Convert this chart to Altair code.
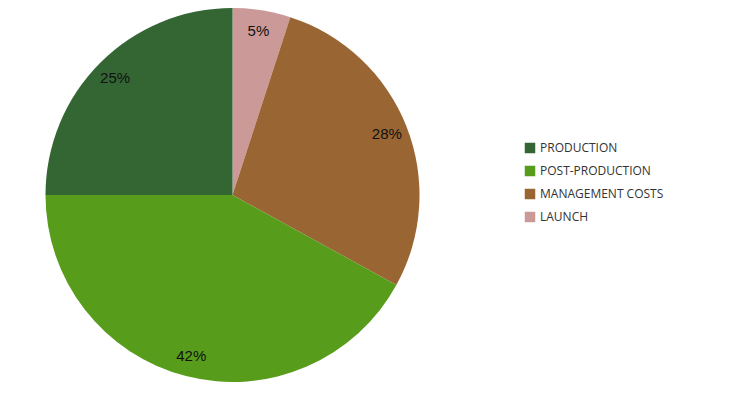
import altair as alt
import pandas as pd

categories = ["LAUNCH", "MANAGEMENT COSTS", "POST-PRODUCTION", "PRODUCTION"]
values = [5, 28, 42, 25]
order = [1, 2, 3, 4]
legend_order = ["PRODUCTION", "POST-PRODUCTION", "MANAGEMENT COSTS", "LAUNCH"]
colors = ["#336633", "#589C1B", "#996633", "#CC9999"]

df = pd.DataFrame({"category": categories, "value": values, "ord": order})
df["label"] = df["value"].astype(str) + "%"

base = alt.Chart(df).encode(
    theta=alt.Theta("value:Q", stack=True),
    order=alt.Order("ord:Q", sort="ascending"),
    x=alt.value(224.5),
    y=alt.value(186),
)

pie = base.mark_arc(outerRadius=187).encode(
    color=alt.Color(
        "category:N",
        scale=alt.Scale(domain=legend_order, range=colors),
        legend=alt.Legend(
            title=None,
            orient="none",
            legendX=516,
            legendY=133,
            symbolType="square",
            symbolSize=110,
            symbolStrokeWidth=0,
            labelFont="Open Sans",
            labelFontSize=12,
            labelColor="#333333",
            labelOffset=4,
            rowPadding=11,
        ),
    )
)

text = base.mark_text(radius=166, font="Liberation Sans", fontSize=15, color="#111111").encode(
    text="label:N"
)

chart = (
    (pie + text)
    .properties(width=449, height=372, padding=0)
    .configure_view(stroke=None)
)

chart.save("out.html", embed_options={"renderer": "svg", "actions": False})
